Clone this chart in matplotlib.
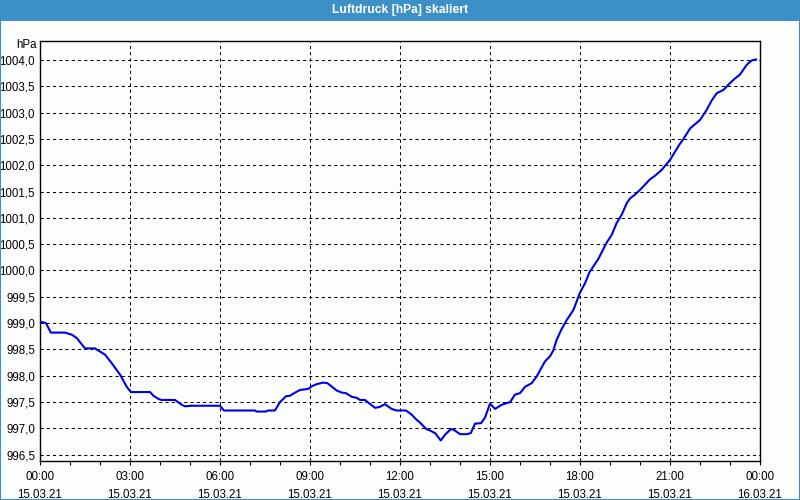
import numpy as np
import matplotlib
matplotlib.use("Agg")
import matplotlib.pyplot as plt
from matplotlib.patches import Rectangle
from matplotlib.ticker import MultipleLocator, FuncFormatter

# Hours since 15.03.21 00:00 and pressure in hPa
hours = [0.0, 0.2, 0.36, 0.83, 1.06, 1.22, 1.5, 1.83, 2.17, 2.39, 2.67, 2.89, 3.03, 3.67,
         3.78, 3.95, 4.05, 4.5, 4.72, 4.83, 5.06, 6.0, 6.13, 7.17, 7.22, 7.53, 7.6, 7.83,
         8.0, 8.2, 8.33, 8.5, 8.67, 8.94, 9.06, 9.22, 9.44, 9.58, 9.89, 10.06, 10.2, 10.39,
         10.56, 10.67, 10.83, 11.17, 11.33, 11.5, 11.72, 11.89, 12.2, 12.39, 12.56, 12.67,
         12.87, 13.0, 13.17, 13.36, 13.5, 13.7, 13.83, 14.0, 14.22, 14.36, 14.5, 14.7, 14.83,
         15.0, 15.17, 15.39, 15.67, 15.83, 16.0, 16.17, 16.39, 16.56, 16.83, 17.0, 17.11,
         17.22, 17.39, 17.56, 17.78, 18.0, 18.17, 18.31, 18.61, 18.89, 19.06, 19.22, 19.39,
         19.56, 19.67, 19.83, 20.0, 20.33, 20.5, 20.72, 21.0, 21.31, 21.44, 21.67, 22.0,
         22.22, 22.39, 22.56, 22.78, 23.0, 23.17, 23.33, 23.56, 23.72, 23.87]

pressure = [999.03, 999.0, 998.82, 998.82, 998.78, 998.72, 998.52, 998.52, 998.40, 998.24,
            998.02, 997.79, 997.69, 997.69, 997.62, 997.56, 997.54, 997.54, 997.45, 997.42,
            997.43, 997.43, 997.34, 997.34, 997.32, 997.32, 997.34, 997.34, 997.50, 997.61,
            997.62, 997.68, 997.73, 997.75, 997.80, 997.84, 997.87, 997.86, 997.72, 997.68,
            997.67, 997.60, 997.58, 997.54, 997.54, 997.39, 997.41, 997.46, 997.37, 997.34,
            997.34, 997.26, 997.16, 997.11, 996.99, 996.96, 996.91, 996.77, 996.88, 996.99,
            996.96, 996.89, 996.89, 996.91, 997.09, 997.10, 997.20, 997.47, 997.37, 997.45,
            997.50, 997.64, 997.67, 997.79, 997.86, 997.99, 998.27, 998.37, 998.48, 998.68,
            998.89, 999.06, 999.25, 999.58, 999.76, 999.96, 1000.22, 1000.53, 1000.68,
            1000.90, 1001.06, 1001.28, 1001.37, 1001.44, 1001.53, 1001.73, 1001.80, 1001.91,
            1002.10, 1002.39, 1002.49, 1002.70, 1002.86, 1003.05, 1003.23, 1003.37, 1003.43,
            1003.56, 1003.65, 1003.72, 1003.91, 1003.99, 1004.01]

tick_hours = [0, 3, 6, 9, 12, 15, 18, 21, 24]
tick_labels = ["00:00\n15.03.21", "03:00\n15.03.21", "06:00\n15.03.21", "09:00\n15.03.21",
               "12:00\n15.03.21", "15:00\n15.03.21", "18:00\n15.03.21", "21:00\n15.03.21",
               "00:00\n16.03.21"]

title = "Luftdruck [hPa] skaliert"
unit = "hPa"

BG = "#fcfefc"
FRAME = "#3d8fc7"

plt.rcParams["font.family"] = ["Liberation Sans", "DejaVu Sans"]
plt.rcParams["font.size"] = 8.3

fig = plt.figure(figsize=(8, 5), dpi=100, facecolor=BG)

# window frame + title bar
fig.patches.append(Rectangle((0, 0), 1, 1, transform=fig.transFigure, fill=False,
                             edgecolor=FRAME, linewidth=1.5))
fig.patches.append(Rectangle((0, 1 - 21 / 500), 1, 21 / 500, transform=fig.transFigure,
                             facecolor=FRAME, edgecolor="none"))
fig.text(0.5, 1 - 10.5 / 500, title, color="white", fontweight="bold", fontsize=8.7,
         ha="center", va="center")

ax = fig.add_axes([40 / 800, 1 - 460.5 / 500, 720 / 800, 419.5 / 500])
ax.set_facecolor(BG)

ax.plot(hours, pressure, color="#0000e6", linewidth=1.5, zorder=3)

ax.set_xlim(0, 24)
ax.set_ylim(996.39, 1004.36)

ax.set_xticks(tick_hours)
ax.set_xticklabels(tick_labels, linespacing=1.7)
ax.xaxis.set_minor_locator(MultipleLocator(1))
ax.yaxis.set_major_locator(MultipleLocator(0.5))
ax.yaxis.set_major_formatter(FuncFormatter(lambda v, p: "{:.1f}".format(v).replace(".", ",")))

ax.tick_params(axis="x", which="both", direction="out", length=3, width=0.8, pad=4.5)
ax.tick_params(axis="y", length=0, pad=3.5)

for s in ax.spines.values():
    s.set_linewidth(1)
    s.set_color("black")

ax.grid(True, which="major", color="black", linewidth=0.75, linestyle=(0, (3, 3)))

fig.text(37 / 800, 1 - 45 / 500, unit, ha="right", va="center")

fig.savefig("out.png", dpi=100, facecolor=BG)
